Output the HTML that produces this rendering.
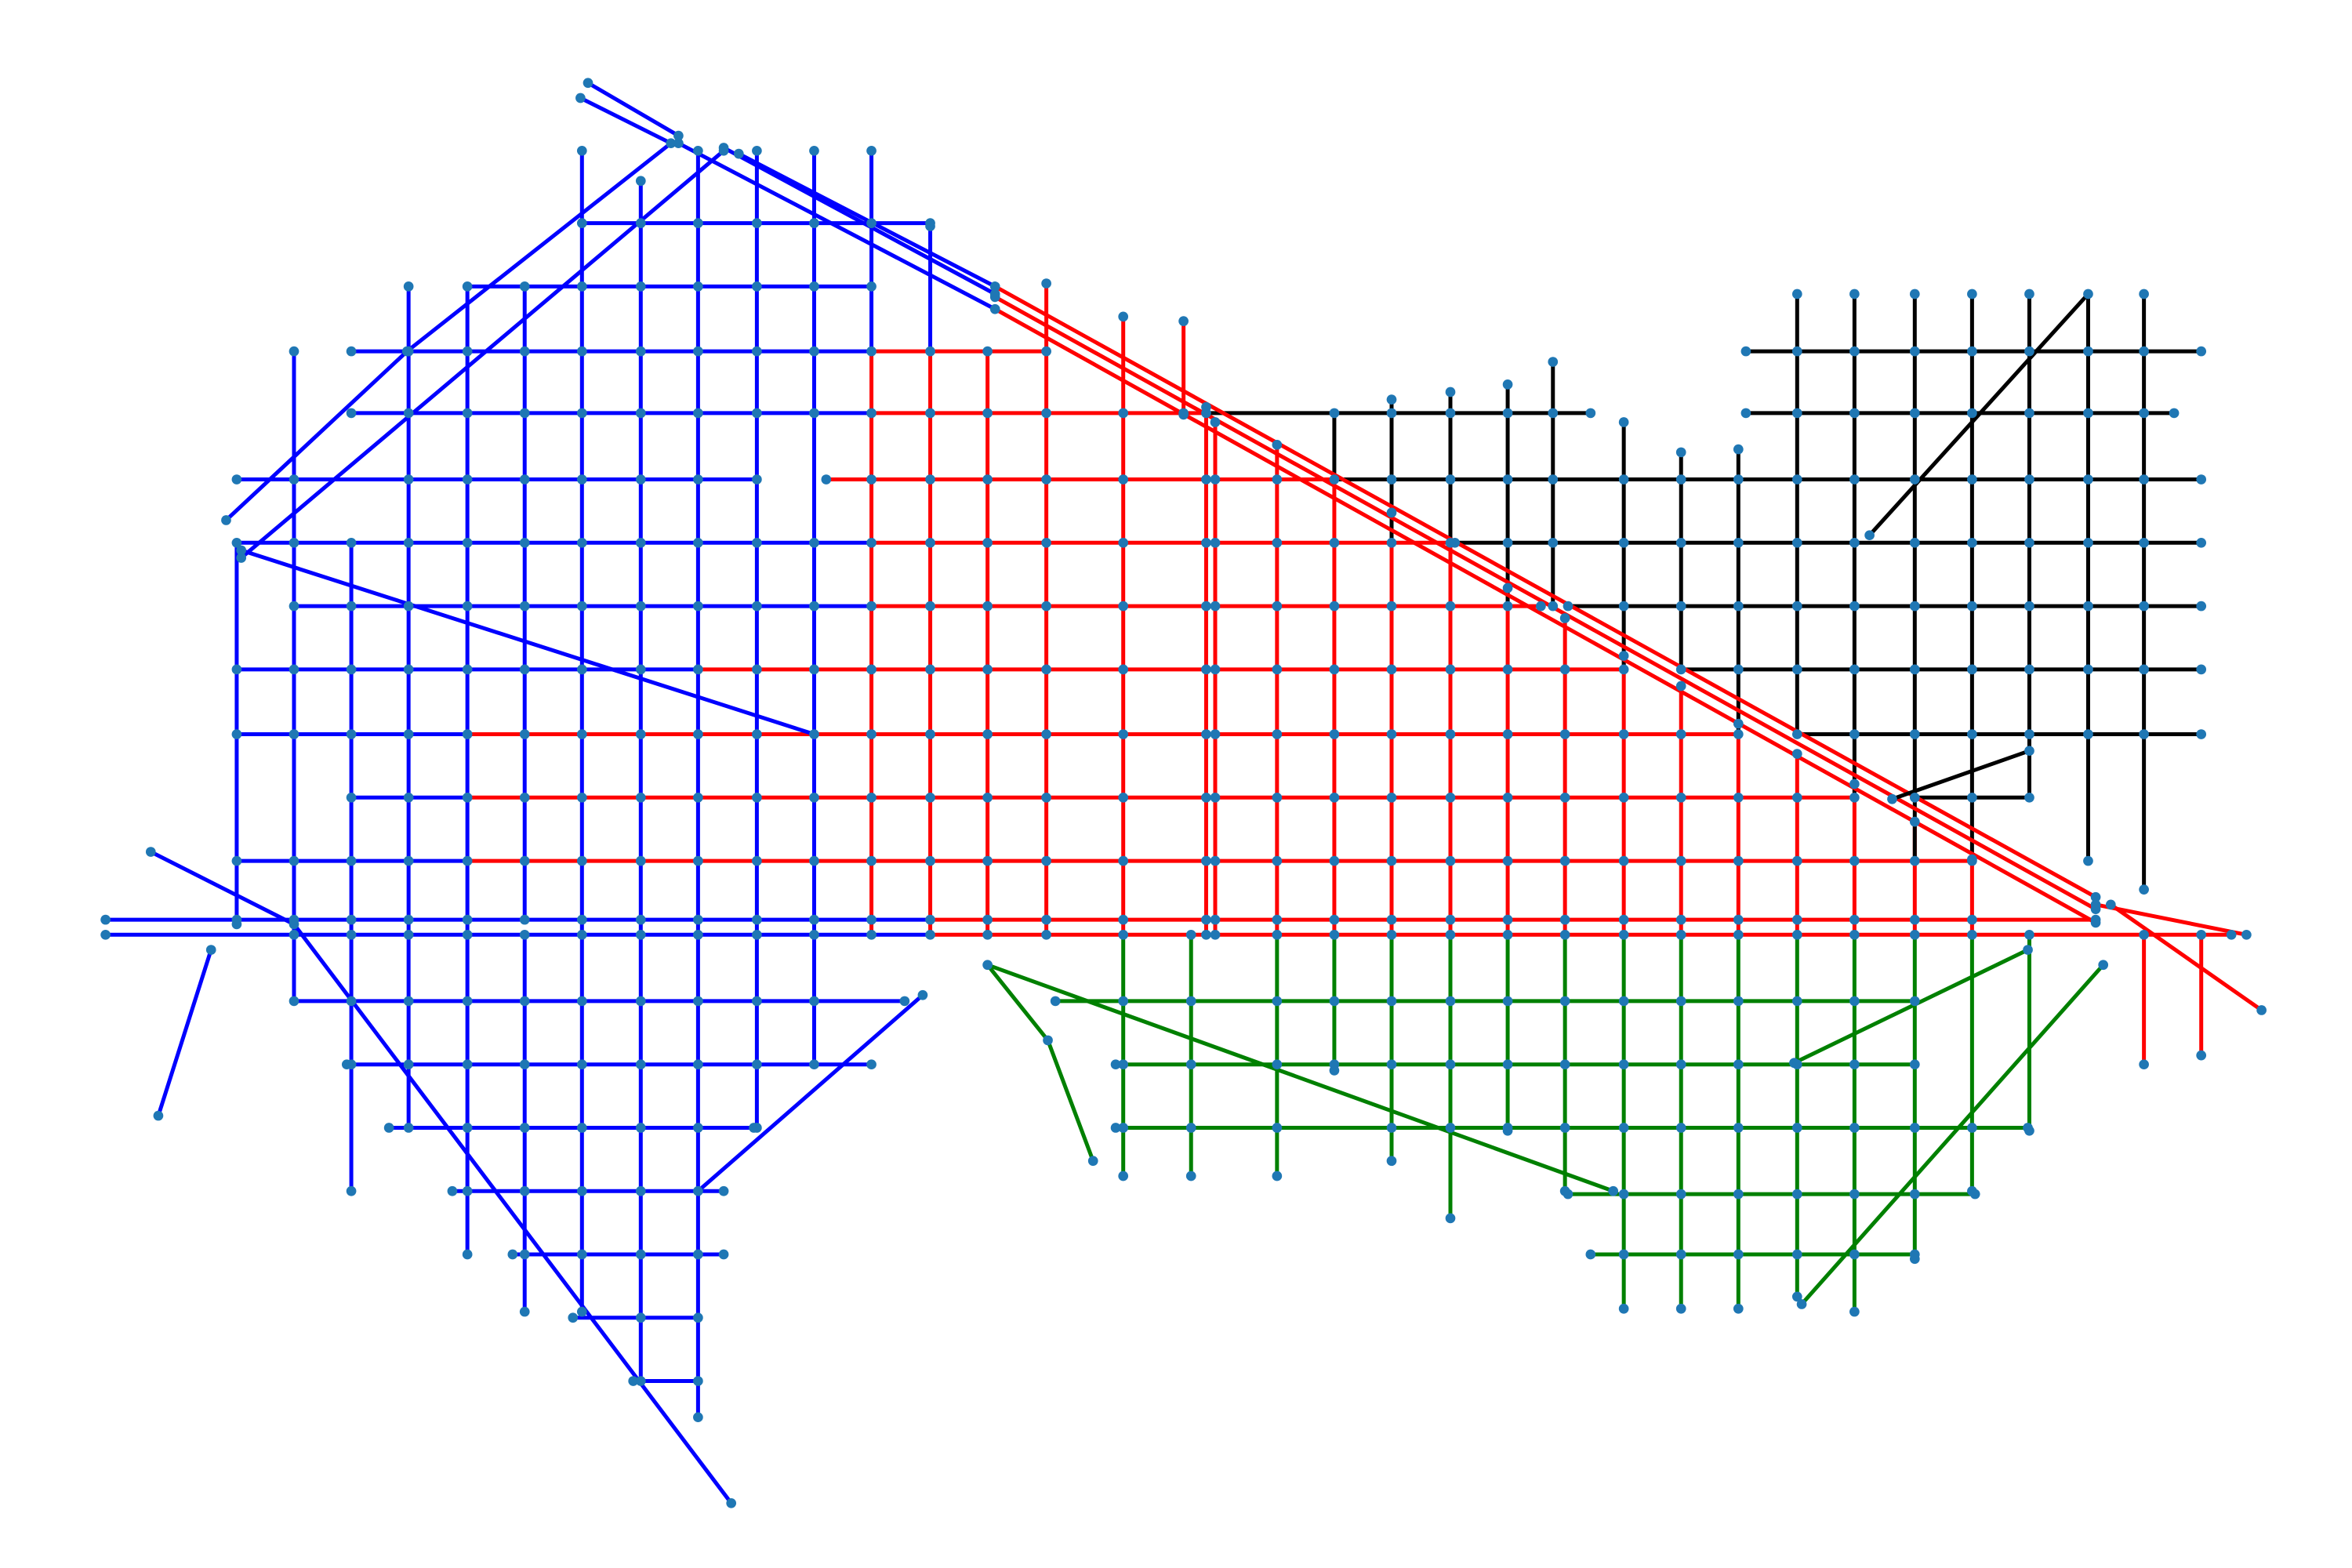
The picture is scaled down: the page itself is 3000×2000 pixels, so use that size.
<!DOCTYPE html>
<html><head><meta charset="utf-8"><style>
html,body{margin:0;padding:0;background:#fff;}
svg{display:block;}
</style></head><body>
<svg id="net" width="3000" height="2000" viewBox="0 0 1560 1040" xmlns="http://www.w3.org/2000/svg">
<g id="edges"></g>
<g id="nodes"></g>
</svg>
<script>
const B='#0000ff',R='#ff0000',K='#000000',G='#008000';
// horizontal streets: [y, x1, x2, color]
const hLines=[
[148,386,617,B],[190,310,578,B],
[233,233,578,B],[233,578,694,R],
[274,233,578,B],[274,578,800,R],[274,800,1055,K],[233,1158,1460,K],[274,1158,1442,K],
[318,157,502,B],[318,548,885,R],[318,885,1460,K],
[360,157,578,B],[360,578,965,R],[360,965,1460,K],
[402,195,578,B],[402,578,1022,R],[402,1040,1460,K],
[444,157,463,B],[444,463,1077,R],[444,1115,1460,K],
[487,157,310,B],[487,310,1153,R],[487,1192,1460,K],
[529,233,310,B],[529,310,1230,R],[529,1270,1346,K],
[571,157,310,B],[571,310,1308,R],
[610,70,617,B],[620,70,617,B],[610,617,1390,R],[620,617,1480,R],
[664,195,600,B],[664,700,1270,G],
[706,230,578,B],[706,740,1270,G],
[748,258,500,B],[748,740,1345,G],
[790,300,480,B],[792,1040,1310,G],
[832,340,480,B],[832,1055,1270,G],
[874,380,463,B],[916,420,463,B]
];
// vertical streets: [x, y1, y2, color]
const vLines=[
[157,360,613,B],[195,233,664,B],[233,360,790,B],[271,190,748,B],[310,190,832,B],
[348,190,610,B],[348,620,870,B],[386,100,870,B],[425,120,916,B],[463,100,940,B],
[502,100,748,B],[540,100,706,B],[578,100,233,B],[617,150,233,B],
[578,233,620,R],[617,233,620,R],[655,233,620,R],[694,188,620,R],[745,210,620,R],
[800,270,620,R],[806,280,620,R],[847,295,620,R],[885,318,620,R],[923,340,620,R],[962,360,620,R],
[1000,390,620,R],[1038,410,620,R],[1077,435,620,R],[1115,455,620,R],[1153,480,620,R],
[1192,500,620,R],[1230,520,620,R],[1270,545,620,R],[1308,570,620,R],[785,213,275,R],
[1192,195,487,K],[1230,195,529,K],[1270,195,571,K],[1308,195,571,K],[1346,195,529,K],
[1385,195,571,K],[1422,195,590,K],[885,274,318,K],[923,265,360,K],[962,260,360,K],
[1000,255,402,K],[1030,240,402,K],[1077,280,444,K],[1115,300,444,K],[1153,298,487,K],
[745,620,780,G],[790,620,780,G],[847,620,780,G],[885,620,710,G],[923,620,770,G],
[962,620,808,G],[1000,620,750,G],[1038,620,790,G],[1077,620,868,G],[1115,620,868,G],
[1153,620,868,G],[1192,620,860,G],[1230,620,870,G],[1270,620,835,G],[1308,620,790,G],[1346,620,750,G],
[1422,620,706,R],[1460,620,700,R]
];
// diagonal roads: [x1, y1, x2, y2, color]
const diag=[
[450,95,660,205,B],[480,98,660,195,B],[490,102,660,190,B],
[660,190,1390,595,R],[660,197,1390,603,R],[660,205,1390,612,R],
[1390,600,1490,620,R],[1400,600,1500,670,R],
[445,95,270,233,B],[270,233,150,345,B],[480,100,160,370,B],[160,365,540,487,B],
[195,613,485,997,B],[612,660,463,790,B],[105,740,140,630,B],[100,565,195,613,B],
[390,55,450,90,B],[385,65,445,95,B],
[1385,195,1240,355,K],[1346,498,1255,530,K],
[655,640,1070,790,G],[1395,640,1195,865,G],[1345,630,1190,705,G],[655,640,695,690,G],[695,690,725,770,G]
];
const svgNS='http://www.w3.org/2000/svg';
const eg=document.getElementById('edges'), ng=document.getElementById('nodes');
const pts=new Map();
function addPt(x,y){pts.set(Math.round(x)+','+Math.round(y),[x,y]);}
function line(x1,y1,x2,y2,c){
  const l=document.createElementNS(svgNS,'line');
  l.setAttribute('x1',x1);l.setAttribute('y1',y1);l.setAttribute('x2',x2);l.setAttribute('y2',y2);
  l.setAttribute('stroke',c);l.setAttribute('stroke-width','2.6');
  
  
  eg.appendChild(l);addPt(x1,y1);addPt(x2,y2);
}
hLines.forEach(h=>line(h[1],h[0],h[2],h[0],h[3]));
vLines.forEach(v=>line(v[0],v[1],v[0],v[2],v[3]));
diag.forEach(d=>line(d[0],d[1],d[2],d[3],d[4]));
hLines.forEach(h=>vLines.forEach(v=>{
  if(v[0]>=h[1]&&v[0]<=h[2]&&h[0]>=Math.min(v[1],v[2])&&h[0]<=Math.max(v[1],v[2])) addPt(v[0],h[0]);
}));
pts.forEach(p=>{
  const c=document.createElementNS(svgNS,'circle');
  c.setAttribute('cx',p[0]);c.setAttribute('cy',p[1]);c.setAttribute('r','3.3');
  c.setAttribute('fill','#1f77b4');
  
  
  ng.appendChild(c);
});
</script>
</body></html>
